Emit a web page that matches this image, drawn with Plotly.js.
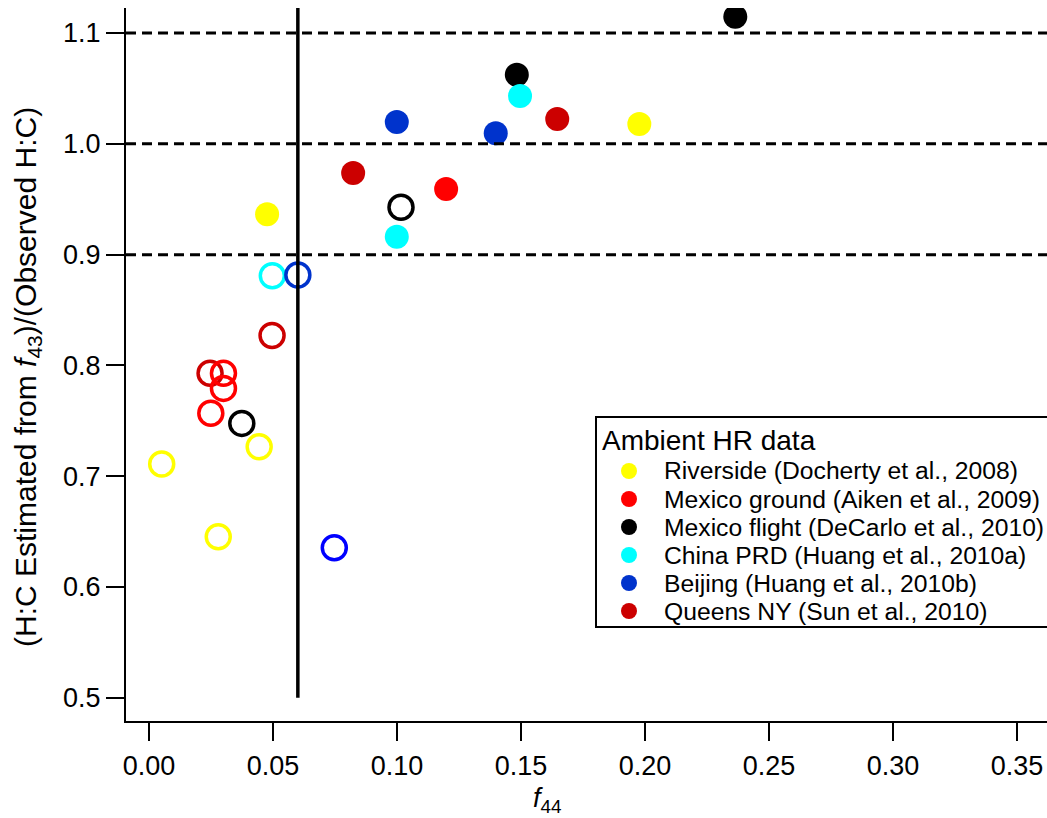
<!DOCTYPE html>
<html>
<head>
<meta charset="utf-8">
<script src="https://cdn.plot.ly/plotly-3.0.1.min.js"></script>
<style>html,body{margin:0;padding:0;background:#fff;}#chart{width:1047px;height:818px;}</style>
</head>
<body>
<div id="chart"></div>
<script>
// ---- data ----
const seriesNames = [
  "Riverside (Docherty et al., 2008)",
  "Mexico ground (Aiken et al., 2009)",
  "Mexico flight (DeCarlo et al., 2010)",
  "China PRD (Huang et al., 2010a)",
  "Beijing (Huang et al., 2010b)",
  "Queens NY (Sun et al., 2010)"
];
const seriesColors = ["#FFFF00", "#FF0000", "#000000", "#00FFFF", "#0033CC", "#CC0000"];

// filled markers
const riversideFilledX = [0.0476, 0.1977];
const riversideFilledY = [0.9364, 1.0179];
const mexGroundFilledX = [0.1198];
const mexGroundFilledY = [0.9592];
const mexFlightFilledX = [0.1483, 0.2364];
const mexFlightFilledY = [1.0624, 1.1147];
const chinaFilledX = [0.0999, 0.1496];
const chinaFilledY = [0.9162, 1.0431];
const beijingFilledX = [0.0999, 0.1398];
const beijingFilledY = [1.0197, 1.0095];
const queensFilledX = [0.0823, 0.1646];
const queensFilledY = [0.9736, 1.0224];

// open markers
const riversideOpenX = [0.0051, 0.0279, 0.0444];
const riversideOpenY = [0.7110, 0.6454, 0.7266];
const mexGroundOpenX = [0.0249, 0.0300, 0.0300];
const mexGroundOpenY = [0.7568, 0.7793, 0.7929];
const mexFlightOpenX = [0.0374, 0.1016];
const mexFlightOpenY = [0.7477, 0.9427];
const chinaOpenX = [0.0497];
const chinaOpenY = [0.8810];
const beijingOpenX = [0.0600, 0.0747];
const beijingOpenY = [0.8816, 0.6355];
const beijingOpenColors = ["#0033CC", "#0000FF"];
const queensOpenX = [0.0246, 0.0496];
const queensOpenY = [0.7929, 0.8270];

const refLevels = [0.9, 1.0, 1.1];
const thresholdF44 = 0.06;
const thresholdYStart = 0.5;

const xTickVals = [0, 0.05, 0.10, 0.15, 0.20, 0.25, 0.30, 0.35];
const yTickVals = [0.5, 0.6, 0.7, 0.8, 0.9, 1.0, 1.1];
const xRange = [-0.0093, 0.3621];
const yRange = [0.4791, 1.1226];

const legendTitle = "Ambient HR data";
const xTitle = "<i>f</i><sub>44</sub>";
const yTitle = "(H:C Estimated from <i>f</i><sub>43</sub>)/(Observed H:C)";

// ---- build figure ----
const FONT = "Liberation Sans, Arial, sans-serif";
const W = 1047, H = 818;
const M = {l: 126, r: 0, t: 8, b: 97};
const plotW = W - M.l - M.r, plotH = H - M.t - M.b;
const px2paperX = p => (p - M.l) / plotW;
const px2paperY = p => (H - M.b - p) / plotH;

const openSize = 24, filledSize = 24, ringW = 3.5;

function openTrace(x, y, color) {
  return {x: x, y: y, type: "scatter", mode: "markers", showlegend: false, hoverinfo: "x+y",
    marker: {symbol: "circle-open", size: openSize, color: color, line: {width: ringW, color: color}}};
}
function filledTrace(x, y, i) {
  return {x: x, y: y, type: "scatter", mode: "markers", name: seriesNames[i], showlegend: false,
    marker: {symbol: "circle", size: filledSize, color: seriesColors[i], line: {width: 0}}};
}

const traces = [
  openTrace(riversideOpenX, riversideOpenY, seriesColors[0]),
  openTrace(queensOpenX, queensOpenY, seriesColors[5]),
  openTrace(mexGroundOpenX, mexGroundOpenY, seriesColors[1]),
  openTrace(mexFlightOpenX, mexFlightOpenY, seriesColors[2]),
  openTrace(chinaOpenX, chinaOpenY, seriesColors[3]),
  openTrace(beijingOpenX, beijingOpenY, beijingOpenColors),
  filledTrace(riversideFilledX, riversideFilledY, 0),
  filledTrace(mexGroundFilledX, mexGroundFilledY, 1),
  filledTrace(mexFlightFilledX, mexFlightFilledY, 2),
  filledTrace(chinaFilledX, chinaFilledY, 3),
  filledTrace(beijingFilledX, beijingFilledY, 4),
  filledTrace(queensFilledX, queensFilledY, 5)
];

const shapes = refLevels.map(v => ({
  type: "line", xref: "paper", yref: "y", x0: 0, x1: 1, y0: v, y1: v, layer: "above",
  line: {color: "#000", width: 3, dash: "10px,6px"}
}));
shapes.push({
  type: "line", xref: "x", yref: "y", x0: thresholdF44, x1: thresholdF44,
  y0: thresholdYStart, y1: yRange[1], layer: "above",
  line: {color: "#000", width: 3.5}
});

// custom legend box (compact rows)
const legBox = {left: 596, top: 417, bottom: 627, right: 1060};
shapes.push({
  type: "rect", xref: "paper", yref: "paper",
  x0: px2paperX(legBox.left), x1: px2paperX(legBox.right),
  y0: px2paperY(legBox.bottom), y1: px2paperY(legBox.top),
  layer: "above", fillcolor: "#fff", line: {color: "#000", width: 2}
});
const annotations = [];
annotations.push({
  xref: "paper", yref: "paper", x: px2paperX(600), y: px2paperY(440),
  xanchor: "left", yanchor: "middle", showarrow: false, text: legendTitle,
  font: {family: FONT, size: 28, color: "#000"}
});
const rowTop = 471, rowStep = 28;
seriesNames.forEach((name, i) => {
  const cy = rowTop + i * rowStep;
  shapes.push({
    type: "circle", xref: "paper", yref: "paper", xsizemode: "pixel", ysizemode: "pixel",
    xanchor: px2paperX(629), yanchor: px2paperY(cy), x0: -8, x1: 8, y0: -8, y1: 8,
    layer: "above", fillcolor: seriesColors[i], line: {width: 0}
  });
  annotations.push({
    xref: "paper", yref: "paper", x: px2paperX(662), y: px2paperY(cy),
    xanchor: "left", yanchor: "middle", showarrow: false, text: name,
    font: {family: FONT, size: 24.7, color: "#000"}
  });
});
// axis titles as annotations for exact placement
annotations.push({
  xref: "paper", yref: "paper", x: px2paperX(547), y: px2paperY(800),
  xanchor: "center", yanchor: "middle", showarrow: false, text: xTitle,
  font: {family: FONT, size: 27, color: "#000"}
});
annotations.push({
  xref: "paper", yref: "paper", x: px2paperX(27), y: px2paperY(377),
  xanchor: "center", yanchor: "middle", showarrow: false, text: yTitle, textangle: -90,
  font: {family: FONT, size: 30, color: "#000"}
});

const axisCommon = {
  showgrid: false, zeroline: false, showline: true, linecolor: "#000", linewidth: 2,
  ticks: "outside", ticklen: 18, tickwidth: 2, tickcolor: "#000",
  tickfont: {family: FONT, size: 27, color: "#000"}, mirror: false, automargin: false
};

const layout = {
  width: W, height: H,
  margin: {l: M.l, r: M.r, t: M.t, b: M.b, pad: 0},
  paper_bgcolor: "#fff", plot_bgcolor: "#fff",
  font: {family: FONT, color: "#000"},
  showlegend: false,
  xaxis: Object.assign({}, axisCommon, {range: xRange, tickvals: xTickVals, tickformat: ".2f", ticklabelstandoff: 2}),
  yaxis: Object.assign({}, axisCommon, {range: yRange, tickvals: yTickVals, tickformat: ".1f"}),
  shapes: shapes,
  annotations: annotations
};

Plotly.newPlot("chart", traces, layout, {displayModeBar: false, staticPlot: true});
</script>
</body>
</html>
